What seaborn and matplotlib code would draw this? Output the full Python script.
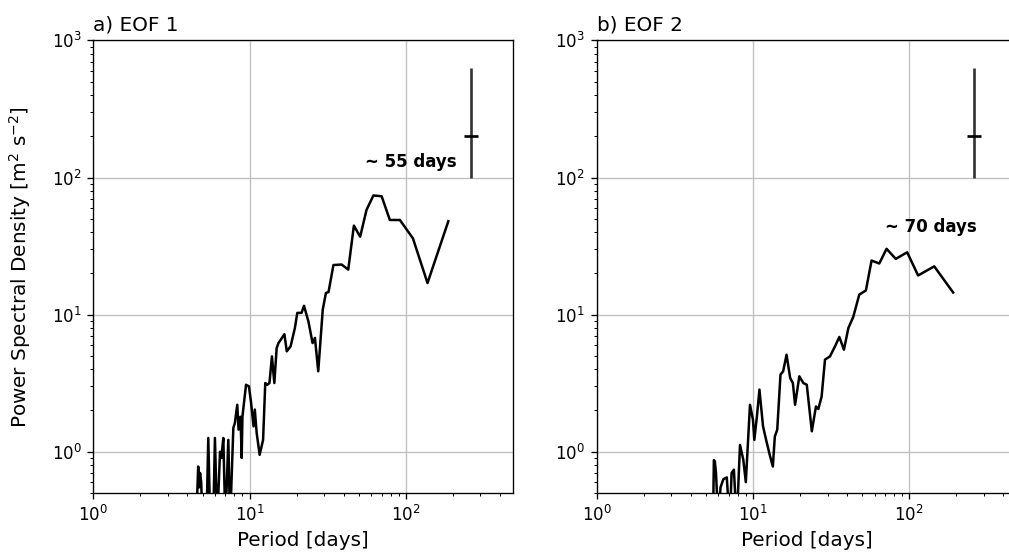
import numpy as np
import pandas as pd
import matplotlib
matplotlib.use("Agg")
import matplotlib.pyplot as plt
import seaborn as sns

# Spectrum of the first EOF principal component: period [days] and PSD [m^2 s^-2]
eof1_period = [4.55, 4.69, 4.76, 4.82, 4.9, 5.0, 5.3, 5.44, 5.6, 5.85, 6.0, 6.2,
               6.47, 6.6, 6.79, 7.0, 7.31, 7.5, 7.87, 8.05, 8.34, 8.5, 8.75, 8.9,
               9.0, 9.49, 9.9, 10.2, 10.6, 10.8, 11.1, 11.6, 12.2, 12.6, 13.0, 13.4,
               13.9, 14.4, 14.9, 15.3, 16.1, 16.7, 17.3, 18.3, 19.5, 20.2, 21.5, 22.3,
               23.8, 25.3, 26.2, 27.5, 29.4, 30.8, 32.0, 34.4, 38.8, 42.8, 46.5, 51.0,
               56.0, 62.0, 70.0, 79.0, 91.6, 111.0, 137.6, 187.0]
eof1_psd = [0.3, 0.78, 0.55, 0.7, 0.6, 0.3, 0.3, 1.26, 0.3, 0.3, 1.26, 0.3,
            1.0, 0.9, 1.26, 0.3, 1.22, 0.3, 1.49, 1.62, 2.2, 1.45, 1.8, 0.9,
            1.8, 3.08, 3.0, 2.33, 1.53, 2.03, 1.37, 0.95, 1.22, 3.17, 3.08, 3.17,
            4.96, 3.17, 5.7, 6.2, 6.76, 7.2, 5.4, 5.87, 8.0, 10.3, 10.3, 11.6,
            8.9, 6.2, 6.76, 3.86, 10.9, 14.4, 14.6, 23.0, 23.2, 21.3, 44.6, 37.0,
            58.0, 74.0, 73.0, 49.0, 49.0, 36.0, 17.0, 48.0]

# Spectrum of the second EOF principal component
eof2_period = [5.55, 5.62, 5.7, 5.8, 6.0, 6.2, 6.46, 6.8, 7.1, 7.3, 7.55, 7.87,
               8.26, 8.67, 9.0, 9.57, 10.0, 10.2, 10.6, 11.0, 11.6, 12.2, 12.8, 13.4,
               13.8, 14.3, 15.0, 15.6, 16.4, 17.3, 18.0, 18.6, 19.8, 21.0, 22.1, 23.8,
               25.3, 26.2, 27.5, 28.9, 31.1, 33.5, 35.7, 38.2, 40.8, 43.8, 47.9, 52.8,
               57.4, 64.3, 71.6, 82.0, 97.0, 114.0, 144.5, 191.0]
eof2_psd = [0.3, 0.87, 0.85, 0.7, 0.3, 0.55, 0.63, 0.65, 0.3, 0.7, 0.74, 0.3,
            1.12, 0.875, 0.6, 2.2, 1.71, 1.22, 1.81, 2.84, 1.53, 1.19, 0.95, 0.78,
            1.29, 1.45, 3.65, 3.86, 5.1, 3.45, 3.17, 2.2, 3.55, 3.17, 3.08, 1.41,
            2.14, 2.05, 2.53, 4.7, 4.96, 5.87, 6.87, 5.55, 8.0, 9.6, 14.0, 15.0,
            24.8, 23.6, 30.2, 25.5, 28.5, 19.3, 22.5, 14.5]

# Confidence interval shown as a vertical bar
ci_period = 260.0
ci_center = 200.0
ci_low = 100.0
ci_high = 630.0

titles = ["a) EOF 1", "b) EOF 2"]
peak_labels = ["~ 55 days", "~ 70 days"]
peak_label_x = [55.0, 70.0]
peak_label_y = [120.0, 40.0]

panels = [
    pd.DataFrame({"period": eof1_period, "psd": eof1_psd}),
    pd.DataFrame({"period": eof2_period, "psd": eof2_psd}),
]

plt.rcParams.update({
    "font.family": ["DejaVu Sans"],
    "font.size": 10,
})

fig = plt.figure(figsize=(1010 / 120, 556 / 120), dpi=120)
positions = [[0.0924, 0.1133, 0.4158, 0.814], [0.5908, 0.1133, 0.4158, 0.814]]

for i, df in enumerate(panels):
    ax = fig.add_axes(positions[i])
    sns.lineplot(data=df, x="period", y="psd", ax=ax, color="k", lw=1.5,
                 estimator=None, sort=True)
    ax.errorbar([ci_period], [ci_center],
                yerr=[[ci_center - ci_low], [ci_high - ci_center]],
                fmt="_", color="k", ms=8, mew=1.6,
                ecolor="0.2", elinewidth=1.6, capsize=0)
    ax.text(peak_label_x[i], peak_label_y[i], peak_labels[i],
            fontweight="bold", fontsize=10)
    ax.set_xscale("log")
    ax.set_yscale("log")
    ax.set_xlim(1, 487)
    ax.set_ylim(0.5, 1000)
    ax.grid(True, which="major", color="#c0c0c0", lw=0.8)
    ax.set_axisbelow(True)
    ax.set_title(titles[i], loc="left", fontsize=12)
    ax.set_xlabel("Period [days]", fontsize=12)
    if i == 0:
        ax.set_ylabel(r"Power Spectral Density [m$^2$ s$^{-2}$]", fontsize=12,
                      labelpad=11)
    else:
        ax.set_ylabel("")

fig.savefig("out.png", dpi=120)
